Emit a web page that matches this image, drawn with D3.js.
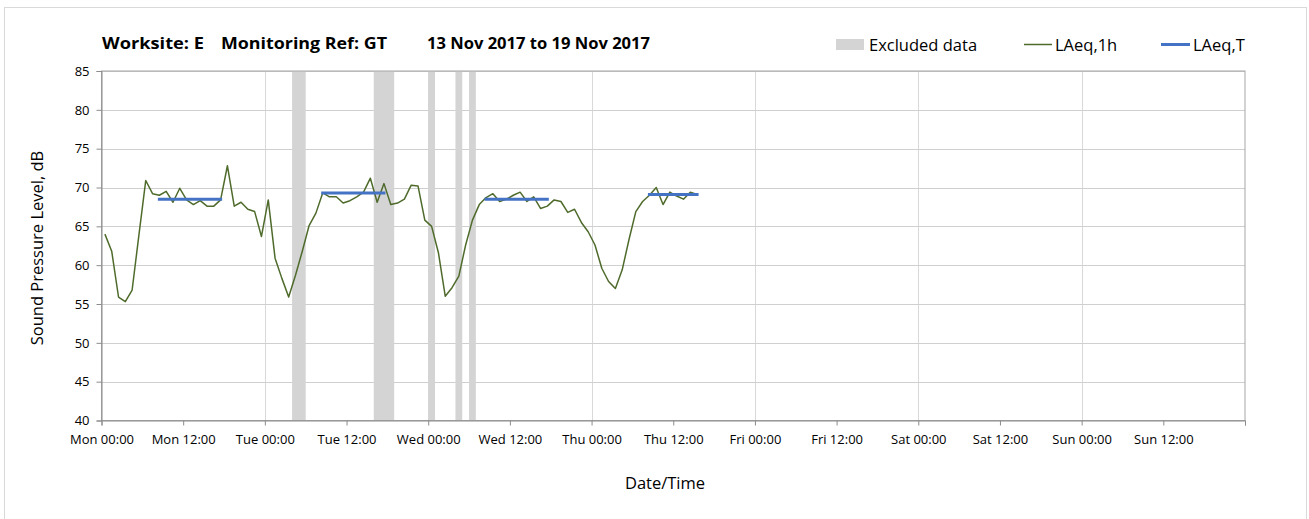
<!DOCTYPE html>
<html><head><meta charset="utf-8">
<script src="https://cdn.jsdelivr.net/npm/d3@7"></script>
<style>
body{margin:0;background:#fff;}
text{font-family:"Open Sans",Lato,sans-serif;fill:#000;}
</style></head>
<body>
<svg id="chart" width="1309" height="519"></svg>
<script>
// ---- data ----
const titleParts = ["Worksite: E", "Monitoring Ref: GT", "13 Nov 2017 to 19 Nov 2017"];
const startTime = "2017-11-13 00:30"; // first hourly value (plotted at mid-hour)
const laeq1h = [64.0,61.8,55.9,55.3,56.8,63.9,70.9,69.2,69.0,69.5,68.1,69.9,68.4,67.8,68.3,67.6,67.6,68.4,72.8,67.6,68.1,67.2,66.9,63.7,
68.4,60.9,58.3,55.9,58.7,61.8,65.1,66.7,69.3,68.8,68.8,68.0,68.3,68.8,69.4,71.2,68.1,70.5,67.8,68.0,68.5,70.3,70.2,65.8,
65.0,61.6,56.0,57.1,58.6,62.6,65.8,67.8,68.7,69.2,68.2,68.5,69.0,69.4,68.2,68.8,67.3,67.6,68.4,68.2,66.8,67.2,65.5,64.3,
62.6,59.6,57.9,57.0,59.4,63.3,66.9,68.2,69.0,70.0,67.8,69.4,68.9,68.5,69.4,69.1];
const laeqTStart = ["2017-11-13 08:30","2017-11-14 08:30","2017-11-15 08:30","2017-11-16 08:30"];
const laeqTEnd   = ["2017-11-13 17:30","2017-11-14 17:30","2017-11-15 17:30","2017-11-16 15:30"];
const laeqTValue = [68.5, 69.3, 68.5, 69.1];
const excludedStart = ["2017-11-14 04:00","2017-11-14 16:00","2017-11-15 00:00","2017-11-15 04:00","2017-11-15 06:00"];
const excludedEnd   = ["2017-11-14 06:00","2017-11-14 19:00","2017-11-15 01:00","2017-11-15 05:00","2017-11-15 07:00"];
const yTicks = [40,45,50,55,60,65,70,75,80,85];
const xStart = "2017-11-13 00:00", xEnd = "2017-11-20 00:00";
const legendLabels = ["Excluded data","LAeq,1h","LAeq,T"];

// ---- setup ----
const parse = d3.timeParse("%Y-%m-%d %H:%M");
const svg = d3.select("#chart");
const L = 101.5, R = 1245, T = 71, B = 420.5;
const x = d3.scaleTime().domain([parse(xStart), parse(xEnd)]).range([L, R]);
const y = d3.scaleLinear().domain([40, 85]).range([B, T]);
const t0 = parse(startTime);
const series = laeq1h.map((v, i) => ({t: d3.timeHour.offset(t0, i), v}));
const green = "#4f6b2c", blue = "#4472c4", grey = "#d4d4d4";

svg.append("rect").attr("x",0).attr("y",0).attr("width",1309).attr("height",519).attr("fill","#fff");
svg.append("rect").attr("x",4.5).attr("y",7.5).attr("width",1302).attr("height",530)
  .attr("fill","none").attr("stroke","#d9d9d9");

// gridlines
const dayTicks = d3.timeDay.range(parse(xStart), parse(xEnd)).slice(1);
svg.append("g").selectAll("line").data(dayTicks).join("line")
  .attr("x1", d => Math.round(x(d)) + 0.5).attr("x2", d => Math.round(x(d)) + 0.5)
  .attr("y1", T).attr("y2", B).attr("stroke", "#d9d9d9");
svg.append("g").selectAll("line").data(yTicks.slice(1)).join("line")
  .attr("x1", L).attr("x2", R).attr("y1", d => Math.round(y(d)) + 0.5).attr("y2", d => Math.round(y(d)) + 0.5)
  .attr("stroke", "#cfcfcf");

// excluded bars
svg.append("g").selectAll("rect").data(excludedStart.map((s, i) => [parse(s), parse(excludedEnd[i])])).join("rect")
  .attr("x", d => x(d[0])).attr("width", d => x(d[1]) - x(d[0]))
  .attr("y", T).attr("height", B - T).attr("fill", grey);

// plot border
svg.append("rect").attr("x", L).attr("y", T).attr("width", R - L).attr("height", B - T)
  .attr("fill", "none").attr("stroke", "#a6a6a6");

// axes
const xAxis = d3.axisBottom(x).tickValues(d3.timeHour.every(12).range(parse(xStart), d3.timeHour.offset(parse(xEnd), 1)))
  .tickFormat((d) => +d === +parse(xEnd) ? "" : d3.timeFormat("%a %H:%M")(d)).tickSize(5).tickPadding(9);
const gx = svg.append("g").attr("transform", `translate(0,${B})`).call(xAxis);
gx.select(".domain").attr("stroke", "#8c8c8c");
gx.selectAll(".tick line").attr("stroke", "#8c8c8c");
gx.selectAll("text").attr("font-size", 13).attr("font-family", "Lato").attr("fill", "#000");

const yAxis = d3.axisLeft(y).tickValues(yTicks).tickSize(5).tickPadding(7);
const gy = svg.append("g").attr("transform", `translate(${L},0)`).call(yAxis);
gy.select(".domain").attr("stroke", "#8c8c8c");
gy.selectAll(".tick line").attr("stroke", "#8c8c8c");
gy.selectAll("text").attr("font-size", 13).attr("font-family", "Lato").attr("fill", "#000");

// LAeq,1h line
svg.append("path").datum(series)
  .attr("d", d3.line().x(d => x(d.t)).y(d => y(d.v)))
  .attr("fill", "none").attr("stroke", green).attr("stroke-width", 1.5).attr("stroke-linejoin", "round");

// LAeq,T segments
svg.append("g").selectAll("line").data(laeqTValue.map((v, i) => ({s: parse(laeqTStart[i]), e: parse(laeqTEnd[i]), v}))).join("line")
  .attr("x1", d => x(d.s)).attr("x2", d => x(d.e)).attr("y1", d => y(d.v)).attr("y2", d => y(d.v))
  .attr("stroke", blue).attr("stroke-width", 3).attr("stroke-linecap", "square");

// title
const tx = [102, 221, 427], tw = [102, 166, 223];
svg.append("g").selectAll("text").data(titleParts).join("text")
  .attr("x", (d, i) => tx[i]).attr("y", 49).attr("font-size", 16).attr("font-weight", "bold")
  .attr("textLength", (d, i) => tw[i]).attr("lengthAdjust", "spacingAndGlyphs").text(d => d);

// axis titles
svg.append("text").attr("transform", "translate(43,248) rotate(-90)").attr("text-anchor", "middle")
  .attr("font-size", 16.5).text("Sound Pressure Level, dB");
svg.append("text").attr("x", 665).attr("y", 489).attr("text-anchor", "middle").attr("font-size", 16.5).text("Date/Time");

// legend
const lg = svg.append("g");
lg.append("rect").attr("x", 836).attr("y", 39).attr("width", 28).attr("height", 11).attr("fill", grey);
lg.append("text").attr("x", 869).attr("y", 51).attr("font-size", 16.5).text(legendLabels[0]);
lg.append("line").attr("x1", 1024).attr("x2", 1052).attr("y1", 44.5).attr("y2", 44.5).attr("stroke", green).attr("stroke-width", 1.5);
lg.append("text").attr("x", 1055).attr("y", 51).attr("font-size", 16.5).text(legendLabels[1]);
lg.append("line").attr("x1", 1161).attr("x2", 1190).attr("y1", 44.5).attr("y2", 44.5).attr("stroke", blue).attr("stroke-width", 3);
lg.append("text").attr("x", 1193).attr("y", 51).attr("font-size", 16.5).text(legendLabels[2]);
</script>
</body></html>
